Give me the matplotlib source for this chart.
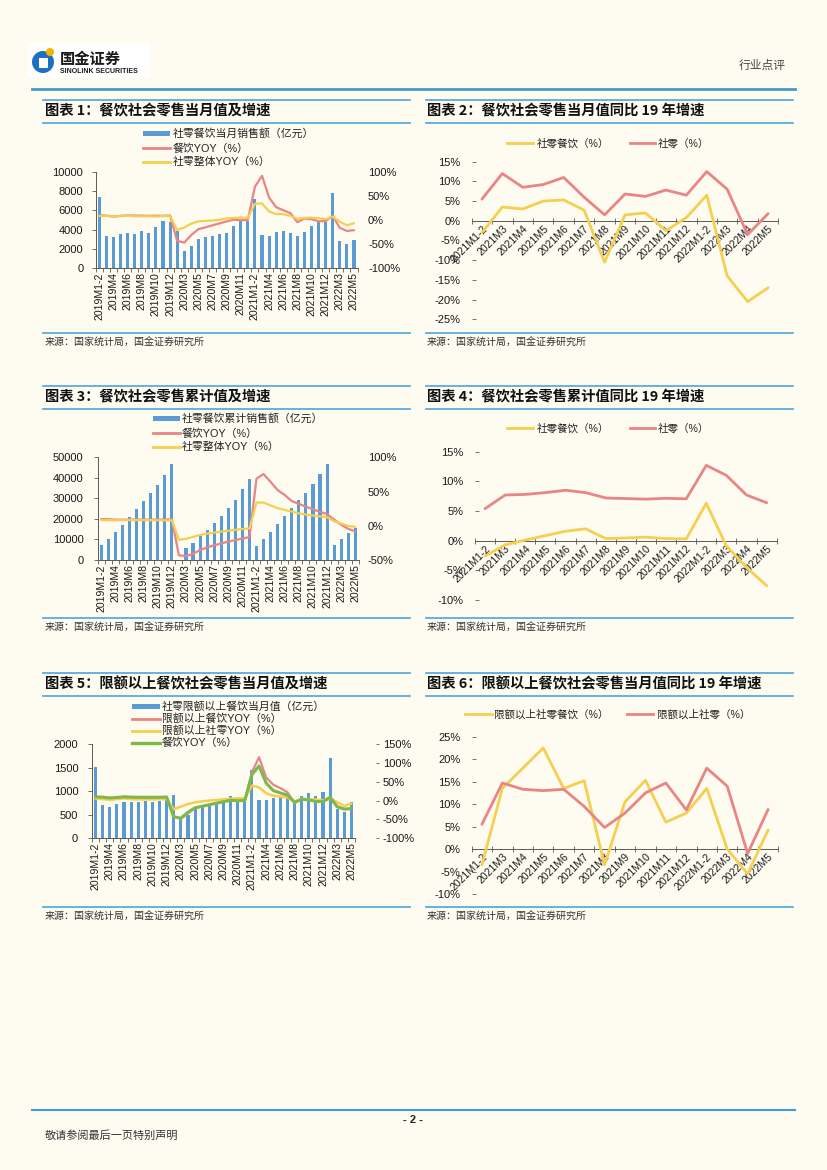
import numpy as np
import matplotlib
matplotlib.use('Agg')
import matplotlib.pyplot as plt
from matplotlib.patches import Rectangle, Circle
from matplotlib.lines import Line2D

plt.rcParams['font.family'] = ['Liberation Sans', 'Noto Sans CJK SC', 'DejaVu Sans']

# ---------------- data ----------------
months_long = ['2019M1-2', '2019M3', '2019M4', '2019M5', '2019M6', '2019M7', '2019M8', '2019M9', '2019M10', '2019M11', '2019M12',
               '2020M1-2', '2020M3', '2020M4', '2020M5', '2020M6', '2020M7', '2020M8', '2020M9', '2020M10', '2020M11', '2020M12',
               '2021M1-2', '2021M3', '2021M4', '2021M5', '2021M6', '2021M7', '2021M8', '2021M9', '2021M10', '2021M11', '2021M12',
               '2022M1-2', '2022M3', '2022M4', '2022M5']
months_short = ['2021M1-2', '2021M3', '2021M4', '2021M5', '2021M6', '2021M7', '2021M8', '2021M9', '2021M10', '2021M11', '2021M12',
                '2022M1-2', '2022M3', '2022M4', '2022M5']

# chart 1: monthly catering sales (亿元) and YoY (%)
c1_sales = [7370, 3370, 3270, 3580, 3650, 3580, 3900, 3690, 4310, 4940, 4800,
            3900, 1800, 2300, 3000, 3200, 3300, 3580, 3700, 4330, 4870, 4870,
            7165, 3440, 3370, 3760, 3900, 3690, 3370, 3790, 4420, 4800, 4800,
            7760, 2850, 2540, 2960]
c1_catering_yoy = [9.7, 9.1, 7.0, 8.4, 10.0, 9.1, 8.9, 8.7, 8.8, 8.7, 9.4,
                   -43.1, -46.8, -31.1, -18.9, -15.2, -11.0, -7.0, -2.9, 0.8, -0.6, 0.4,
                   68.9, 91.6, 46.4, 26.6, 20.2, 14.3, -4.5, 3.1, 2.0, -2.7, -2.3,
                   8.9, -16.4, -22.7, -21.1]
c1_total_yoy = [8.2, 8.7, 7.2, 8.6, 9.8, 7.6, 7.5, 7.8, 7.2, 8.0, 8.0,
                -20.5, -15.8, -7.5, -2.8, -1.8, -1.1, 0.5, 3.3, 4.3, 5.0, 4.6,
                33.8, 34.2, 17.7, 12.4, 12.1, 8.5, 2.5, 4.4, 4.9, 3.9, 1.7,
                6.7, -3.5, -11.1, -6.7]

# chart 2: monthly vs 2019 (%)
c2_catering = [-3.0, 3.5, 3.0, 5.0, 5.3, 2.7, -10.5, 1.5, 2.0, -2.5, 0.8, 6.5, -14.0, -20.5, -17.0]
c2_total = [5.5, 12.0, 8.5, 9.2, 11.0, 6.0, 1.5, 6.8, 6.2, 7.8, 6.5, 12.5, 8.0, -3.5, 1.8]

# chart 3: cumulative catering sales (亿元) and YoY (%)
c3_sales = [7300, 10250, 13800, 17070, 20800, 24700, 28780, 32500, 36600, 41460, 46830,
            np.nan, 6000, 8130, 11870, 14630, 18050, 21460, 25200, 29270, 34470, 39350,
            7000, 10250, 13800, 17560, 21460, 25200, 29270, 32520, 37070, 41950, 46830,
            7300, 10250, 13330, 15400]
c3_catering_yoy = [9.7, 9.6, 8.9, 8.8, 9.1, 9.1, 9.0, 9.0, 9.0, 9.0, 9.4,
                   -43.1, -44.3, -41.0, -35.5, -31.7, -28.5, -26.0, -23.0, -21.0, -18.5, -16.6,
                   68.9, 75.5, 64.0, 52.0, 45.0, 36.0, 32.0, 28.0, 24.0, 20.5, 17.0,
                   9.0, 1.5, -4.5, -8.2]
c3_total_yoy = [8.2, 8.3, 8.0, 8.1, 8.4, 8.3, 8.2, 8.2, 8.1, 8.0, 8.0,
                -20.5, -19.0, -16.2, -13.5, -11.4, -9.9, -8.6, -7.2, -5.9, -4.8, -3.9,
                33.8, 33.9, 29.6, 25.7, 23.0, 20.7, 18.1, 16.4, 14.9, 13.7, 12.5,
                6.7, 3.3, -0.2, -1.5]

# chart 4: cumulative vs 2019 (%)
c4_catering = [-2.6, -0.7, 0.1, 0.85, 1.6, 2.0, 0.35, 0.45, 0.6, 0.35, 0.3, 6.3, -0.9, -4.5, -7.6]
c4_total = [5.4, 7.7, 7.8, 8.1, 8.5, 8.1, 7.2, 7.1, 7.0, 7.15, 7.05, 12.7, 11.0, 7.7, 6.4]

# chart 5: above-quota catering monthly (亿元) and YoY (%)
c5_sales = [1503, 709, 674, 738, 773, 773, 780, 787, 780, 794, 887,
            908, 420, 496, 638, 674, 709, 745, 780, 887, 780, 851,
            1440, 815, 815, 865, 880, 865, 780, 887, 957, 887, 979,
            1710, 620, 560, 760]
c5_above_catering_yoy = [9.0, 8.0, 6.0, 8.0, 10.0, 9.0, 8.0, 8.0, 8.0, 8.0, 9.0,
                         -42.0, -48.0, -34.0, -20.0, -15.0, -11.0, -7.0, -3.0, 0.0, -1.0, 0.0,
                         75.0, 115.0, 61.0, 42.0, 33.0, 22.0, -7.0, 6.0, 2.0, -1.0, -3.0,
                         6.0, -16.0, -22.0, -22.0]
c5_above_total_yoy = [5.0, 4.0, 2.0, 4.0, 6.0, 3.5, 3.5, 3.0, 3.0, 4.0, 3.5,
                      -23.0, -16.0, -9.0, -4.5, -2.0, 0.0, 1.5, 3.5, 5.0, 6.0, 6.0,
                      40.0, 35.0, 19.5, 13.0, 10.6, 8.0, -2.7, 4.4, 3.5, 2.7, 1.0,
                      6.0, -4.4, -14.0, -8.0]
c5_catering_yoy = [9.7, 9.1, 7.0, 8.4, 10.0, 9.1, 8.9, 8.7, 8.8, 8.7, 9.4,
                   -43.1, -46.8, -31.1, -18.9, -15.2, -11.0, -7.0, -2.9, 0.8, -0.6, 0.4,
                   68.9, 91.6, 46.4, 26.6, 20.2, 14.3, -4.5, 3.1, 2.0, -2.7, -2.3,
                   8.9, -16.4, -22.7, -21.1]

# chart 6: above-quota monthly vs 2019 (%)
c6_catering = [-3.5, 13.5, 18.0, 22.5, 13.5, 15.2, -3.5, 10.5, 15.3, 6.0, 8.0, 13.5, 0.0, -5.5, 4.2]
c6_total = [5.5, 14.7, 13.3, 13.0, 13.3, 9.5, 4.8, 8.0, 12.5, 14.7, 8.7, 18.0, 14.0, -1.0, 8.8]

titles = ['图表 1：餐饮社会零售当月值及增速',
          '图表 2：餐饮社会零售当月值同比 19 年增速',
          '图表 3：餐饮社会零售累计值及增速',
          '图表 4：餐饮社会零售累计值同比 19 年增速',
          '图表 5：限额以上餐饮社会零售当月值及增速',
          '图表 6：限额以上餐饮社会零售当月值同比 19 年增速']
source = '来源：国家统计局，国金证券研究所'

# ---------------- style ----------------
BLUE = '#5B9BD5'
RED = '#E98585'
YEL = '#F5CF50'
GRN = '#7DB84A'
BG = '#FEFBF1'
SEP = '#4AA6DC'
SPINE = '#595959'
TXT = '#1A1A1A'

W, H = 827, 1170
fig = plt.figure(figsize=(W / 100, H / 100), dpi=100, facecolor=BG)
bg = fig.add_axes([0, 0, 1, 1])
bg.set_xlim(0, W)
bg.set_ylim(H, 0)
bg.axis('off')


def px_rect(x0, y0, x1, y1):
    return [x0 / W, 1 - y1 / H, (x1 - x0) / W, (y1 - y0) / H]


def hline(x0, x1, y, color=SEP, lw=1.2):
    bg.add_line(Line2D([x0, x1], [y, y], color=color, lw=lw))


# ---------------- header / footer ----------------
bg.add_patch(Rectangle((28, 43), 122, 35, color='white', lw=0))
bg.add_patch(Circle((43, 62), 11, color='#1F6FC0', lw=0))
bg.add_patch(Rectangle((39, 58), 9, 10, color='white', lw=0))
bg.add_patch(Circle((50, 52), 4, color='#F5B400', lw=0))
bg.text(60, 59, '国金证券', fontsize=11, fontweight='bold', color='#1a1a1a', va='center', ha='left',
        family=['Noto Sans CJK SC'])
bg.text(60, 71.5, 'SINOLINK SECURITIES', fontsize=5.0, fontweight='bold', color='#1a1a1a', va='center', ha='left')
bg.text(786, 66, '行业点评', fontsize=8.5, color='#444444', va='center', ha='right')
hline(32, 795, 89, color='#3F9DC8', lw=2.0)

hline(32, 795, 1110, color='#3A9FDB', lw=1.5)
bg.text(413, 1120, '- 2 -', fontsize=8, fontweight='bold', color='#222', ha='center', va='center')
bg.text(45, 1136, '敬请参阅最后一页特别声明', fontsize=8, color='#333', ha='left', va='center')

# ---------------- section frames ----------------
row_tops = [100, 386, 672.7]
row_sub = [122.7, 409, 696]
row_bot = [333, 618.3, 907.3]
for i in range(3):
    for (xl, xr, tx) in [(43, 410, 45), (426, 793, 427)]:
        hline(xl, xr, row_tops[i])
        hline(xl, xr, row_sub[i])
        hline(xl, xr, row_bot[i])
        bg.text(tx, row_bot[i] + 9.5, source, fontsize=7.2, color='#333', ha='left', va='center')
title_pos = [(45, 111.5), (427, 111.5), (45, 397.5), (427, 397.5), (45, 684), (427, 684)]
for t, (tx, ty) in zip(titles, title_pos):
    bg.text(tx, ty, t, fontsize=10.3, fontweight='bold', color='#111', ha='left', va='center',
            family=['Noto Sans CJK SC', 'Liberation Sans'])


def legend_v(xh, rows, items, hl=27):
    for (kind, color, lw, label), y in zip(items, rows):
        if kind == 'bar':
            bg.add_patch(Rectangle((xh, y - 2.5), hl, 5, color=color, lw=0))
        else:
            bg.add_line(Line2D([xh, xh + hl], [y, y], color=color, lw=lw))
        bg.text(xh + hl + 2, y, label, fontsize=7.8, color='#222', ha='left', va='center')


def legend_h(y, items):
    for (x0, x1, xt, color, label) in items:
        bg.add_line(Line2D([x0, x1], [y, y], color=color, lw=2.0))
        bg.text(xt, y, label, fontsize=7.6, color='#222', ha='left', va='center')


def dual_chart(box, labels, bars, lines, lylim, lyticks, rylim, ryticks, lpad, rpad, r_out=0, rlen=3):
    ax = fig.add_axes(px_rect(*box))
    ax.patch.set_visible(False)
    x = np.arange(len(labels))
    ax.bar(x, bars, width=0.44, color=BLUE, linewidth=0)
    ax.set_ylim(*lylim)
    ax.set_yticks(lyticks)
    ax.set_yticklabels([str(v) for v in lyticks])
    ax.set_xticks(np.arange(-0.5, len(labels), 1.0))
    ax.set_xticklabels([])
    ax.set_xticks(x[::2], minor=True)
    ax.set_xticklabels(labels[::2], minor=True, rotation=90, fontsize=7.6, color=TXT)
    ax.tick_params(axis='x', which='major', direction='out', length=3, width=0.6, color=SPINE)
    ax.tick_params(axis='x', which='minor', length=0, pad=3)
    ax.tick_params(axis='y', direction='out', length=3, width=0.6, color=SPINE, labelsize=8,
                   labelcolor=TXT, pad=lpad)
    for s in ('top', 'right'):
        ax.spines[s].set_visible(False)
    for s in ('left', 'bottom'):
        ax.spines[s].set_color(SPINE)
        ax.spines[s].set_linewidth(0.7)
    ax2 = ax.twinx()
    for vals, c, lw in lines:
        ax2.plot(x, vals, color=c, lw=lw, solid_joinstyle='round', solid_capstyle='round')
    ax2.set_ylim(*rylim)
    ax2.set_yticks(ryticks)
    ax2.set_yticklabels([f'{v}%' for v in ryticks])
    ax2.tick_params(axis='y', direction='out', length=rlen, width=0.6, color=SPINE, labelsize=8,
                    labelcolor=TXT, pad=rpad)
    for s in ('top', 'left', 'bottom', 'right'):
        ax2.spines[s].set_visible(False)
    if r_out:
        ax2.spines['right'].set_position(('outward', r_out))
    ax.set_xlim(-0.5, len(labels) - 0.5)
    return ax, ax2


def yoy_chart(box, labels, lines, ylim, yticks, lpad):
    ax = fig.add_axes(px_rect(*box))
    ax.patch.set_visible(False)
    x = np.arange(len(labels))
    for vals, c, lw in lines:
        ax.plot(x, vals, color=c, lw=lw, solid_joinstyle='round', solid_capstyle='round', zorder=3)
    ax.set_xlim(-0.5, len(labels) - 0.5)
    ax.set_ylim(*ylim)
    ax.set_yticks(yticks)
    ax.set_yticklabels([f'{v}%' for v in yticks])
    ax.spines['bottom'].set_position(('data', 0))
    for s in ('top', 'right', 'left'):
        ax.spines[s].set_visible(False)
    ax.spines['bottom'].set_color(SPINE)
    ax.spines['bottom'].set_linewidth(0.7)
    ax.set_xticks(np.arange(-0.5, len(labels), 1.0))
    ax.set_xticklabels([])
    ax.set_xticks(x, minor=True)
    ax.set_xticklabels(labels, minor=True, rotation=45, ha='right', va='top', rotation_mode='anchor',
                       fontsize=7.6, color=TXT)
    ax.tick_params(axis='x', which='major', direction='inout', length=5, width=0.6, color=SPINE)
    ax.tick_params(axis='x', which='minor', length=0, pad=2)
    ax.tick_params(axis='y', direction='in', length=3, width=0.6, color=SPINE, labelsize=8,
                   labelcolor=TXT, pad=lpad)
    return ax


# ---------------- chart 1 ----------------
dual_chart((95.8, 171.7, 357.5, 268.3), months_long, c1_sales,
           [(c1_catering_yoy, RED, 1.6), (c1_total_yoy, YEL, 1.6)],
           (0, 10000), [0, 2000, 4000, 6000, 8000, 10000],
           (-100, 100), [-100, -50, 0, 50, 100], lpad=6, rpad=7.6, rlen=0)
legend_v(143.3, [133.3, 148.3, 161.7],
         [('bar', BLUE, 0, '社零餐饮当月销售额（亿元）'),
          ('line', RED, 2.0, '餐饮YOY（%）'),
          ('line', YEL, 2.0, '社零整体YOY（%）')])

# ---------------- chart 2 ----------------
yoy_chart((471.7, 161.7, 778.3, 319.3), months_short,
          [(c2_catering, YEL, 2.0), (c2_total, RED, 2.0)],
          (-25, 15), [-25, -20, -15, -10, -5, 0, 5, 10, 15], lpad=7.9)
legend_h(143.3, [(506.7, 533, 537, YEL, '社零餐饮（%）'), (630, 655, 658, RED, '社零（%）')])

# ---------------- chart 3 ----------------
dual_chart((97.8, 457.3, 358.8, 560), months_long, c3_sales,
           [(c3_catering_yoy, RED, 1.6), (c3_total_yoy, YEL, 1.6)],
           (0, 50000), [0, 10000, 20000, 30000, 40000, 50000],
           (-50, 100), [-50, 0, 50, 100], lpad=7.4, rpad=6.6, rlen=0)
legend_v(153, [418.3, 433.3, 446.7],
         [('bar', BLUE, 0, '社零餐饮累计销售额（亿元）'),
          ('line', RED, 2.0, '餐饮YOY（%）'),
          ('line', YEL, 2.0, '社零整体YOY（%）')])

# ---------------- chart 4 ----------------
yoy_chart((475, 451.7, 776.7, 600), months_short,
          [(c4_catering, YEL, 2.0), (c4_total, RED, 2.0)],
          (-10, 15), [-10, -5, 0, 5, 10, 15], lpad=8.4)
legend_h(428.3, [(507, 533, 537, YEL, '社零餐饮（%）'), (630, 655, 658, RED, '社零（%）')])

# ---------------- chart 5 ----------------
dual_chart((92, 744, 355, 838.3), months_long, c5_sales,
           [(c5_above_catering_yoy, RED, 1.6), (c5_above_total_yoy, YEL, 1.8), (c5_catering_yoy, GRN, 2.2)],
           (0, 2000), [0, 500, 1000, 1500, 2000],
           (-100, 150), [-100, -50, 0, 50, 100, 150], lpad=6.9, rpad=2.5, r_out=15, rlen=2.5)
legend_v(131.7, [706, 718.5, 731, 743],
         [('bar', BLUE, 0, '社零限额以上餐饮当月值（亿元）'),
          ('line', RED, 2.0, '限额以上餐饮YOY（%）'),
          ('line', YEL, 2.0, '限额以上社零YOY（%）'),
          ('line', GRN, 2.4, '餐饮YOY（%）')], hl=28.3)

# ---------------- chart 6 ----------------
yoy_chart((471.7, 736.7, 778.3, 894), months_short,
          [(c6_catering, YEL, 2.0), (c6_total, RED, 2.0)],
          (-10, 25), [-10, -5, 0, 5, 10, 15, 20, 25], lpad=7.9)
legend_h(714.3, [(465, 491.7, 494, YEL, '限额以上社零餐饮（%）'), (626.7, 653.3, 657, RED, '限额以上社零（%）')])

fig.savefig('out.png', dpi=100, facecolor=BG)
